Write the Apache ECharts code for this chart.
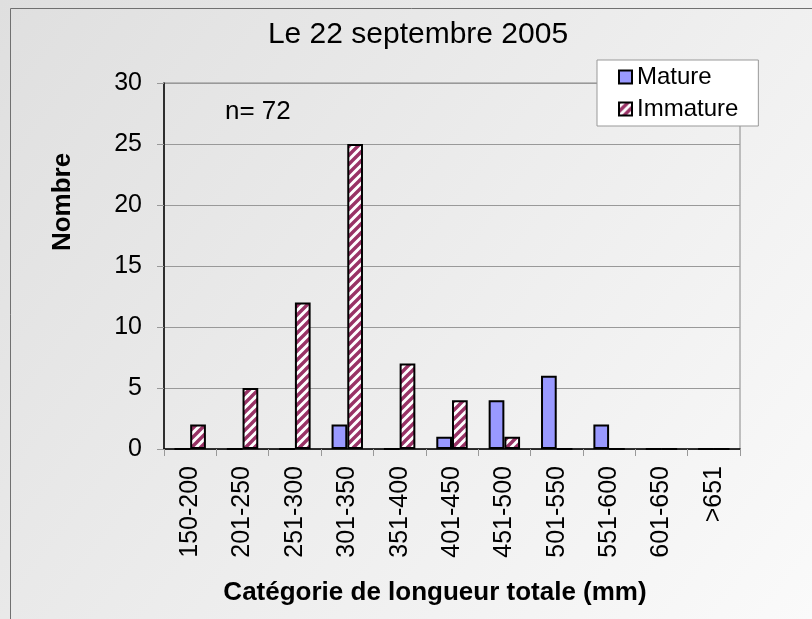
<!DOCTYPE html>
<html><head><meta charset="utf-8">
<script src="https://cdn.jsdelivr.net/npm/echarts@6/dist/echarts.min.js"></script>
<style>html,body{margin:0;padding:0;}#c{width:812px;height:619px;}</style>
</head><body><div id="c"></div>
<script>
const categories = ['150-200','201-250','251-300','301-350','351-400','401-450','451-500','501-550','551-600','601-650','>651'];
const mature = [0,0,0,2,0,1,4,6,2,0,0];
const immature = [2,5,12,25,7,4,1,0,0,0,0];
const yTicks = [0,5,10,15,20,25,30];

function hatch(){
  const n = 9;
  const c = document.createElement('canvas');
  c.width = n; c.height = n;
  const g = c.getContext('2d');
  g.fillStyle = '#ffffff'; g.fillRect(0,0,n,n);
  g.strokeStyle = '#993366'; g.lineWidth = 3.4;
  g.beginPath();
  g.moveTo(-2,n+2); g.lineTo(n+2,-2);
  g.moveTo(-3,3); g.lineTo(3,-3);
  g.moveTo(n-3,n+3); g.lineTo(n+3,n-3);
  g.stroke();
  return c;
}
const font = 'Liberation Sans, Arial, sans-serif';
const chart = echarts.init(document.getElementById('c'));
chart.setOption({
  animation:false,
  backgroundColor: new echarts.graphic.LinearGradient(0,0,1,1,[{offset:0,color:'#dfdfdf'},{offset:1,color:'#fafafa'}]),
  graphic:[
    {type:'rect', shape:{x:10.5,y:8.5,width:900,height:700}, style:{fill:null,stroke:'#707070',lineWidth:1}, silent:true},
    {type:'text', x:225, y:112, style:{text:'n= 72', font:'26px '+font, fill:'#000', textVerticalAlign:'middle'}},
    {type:'text', x:63, y:202, rotation:Math.PI/2, style:{text:'Nombre', font:'bold 26px '+font, fill:'#000', textAlign:'center', textVerticalAlign:'middle'}},
    {type:'text', x:435, y:593, style:{text:'Catégorie de longueur totale (mm)', font:'bold 26px '+font, fill:'#000', textAlign:'center', textVerticalAlign:'middle'}}
  ],
  title:{text:'Le 22 septembre 2005', left:413, top:15, textAlign:'center',
    textStyle:{fontFamily:font, fontSize:30, fontWeight:'normal', color:'#000'}},
  legend:{orient:'vertical', left:597, top:60, padding:[5,20,5,21], itemGap:8,
    icon:'rect', itemWidth:13, itemHeight:13, backgroundColor:'#ffffff', borderColor:'#999', borderWidth:1,
    textStyle:{fontFamily:font, fontSize:24, color:'#000'},
    data:['Mature','Immature']},
  grid:{left:164, top:83, right:72, bottom:170, show:true, borderColor:'#888', borderWidth:1, backgroundColor:'transparent'},
  xAxis:{type:'category', data:categories,
    axisLine:{lineStyle:{color:'#000', width:1.5}},
    axisTick:{show:true, alignWithLabel:false, length:7, lineStyle:{color:'#999'}},
    axisLabel:{rotate:90, margin:17, fontFamily:font, fontSize:25, color:'#000'}},
  yAxis:{type:'value', min:0, max:30, interval:5,
    axisLine:{show:true, lineStyle:{color:'#000', width:1.5}},
    axisTick:{show:true, length:7, lineStyle:{color:'#999'}},
    splitLine:{lineStyle:{color:'#999'}},
    axisLabel:{margin:22, fontFamily:font, fontSize:25, color:'#000',
      formatter:v=> yTicks.includes(v)? String(v):''}},
  series:[
    {name:'Mature', type:'bar', data:mature, barWidth:'30%', barGap:'0%',
      itemStyle:{color:'#9999ff', borderColor:'#000', borderWidth:2}},
    {name:'Immature', type:'bar', data:immature, barWidth:'30%',
      itemStyle:{color:{image:hatch(), repeat:'repeat'}, borderColor:'#000', borderWidth:2}}
  ]
});
</script></body></html>
